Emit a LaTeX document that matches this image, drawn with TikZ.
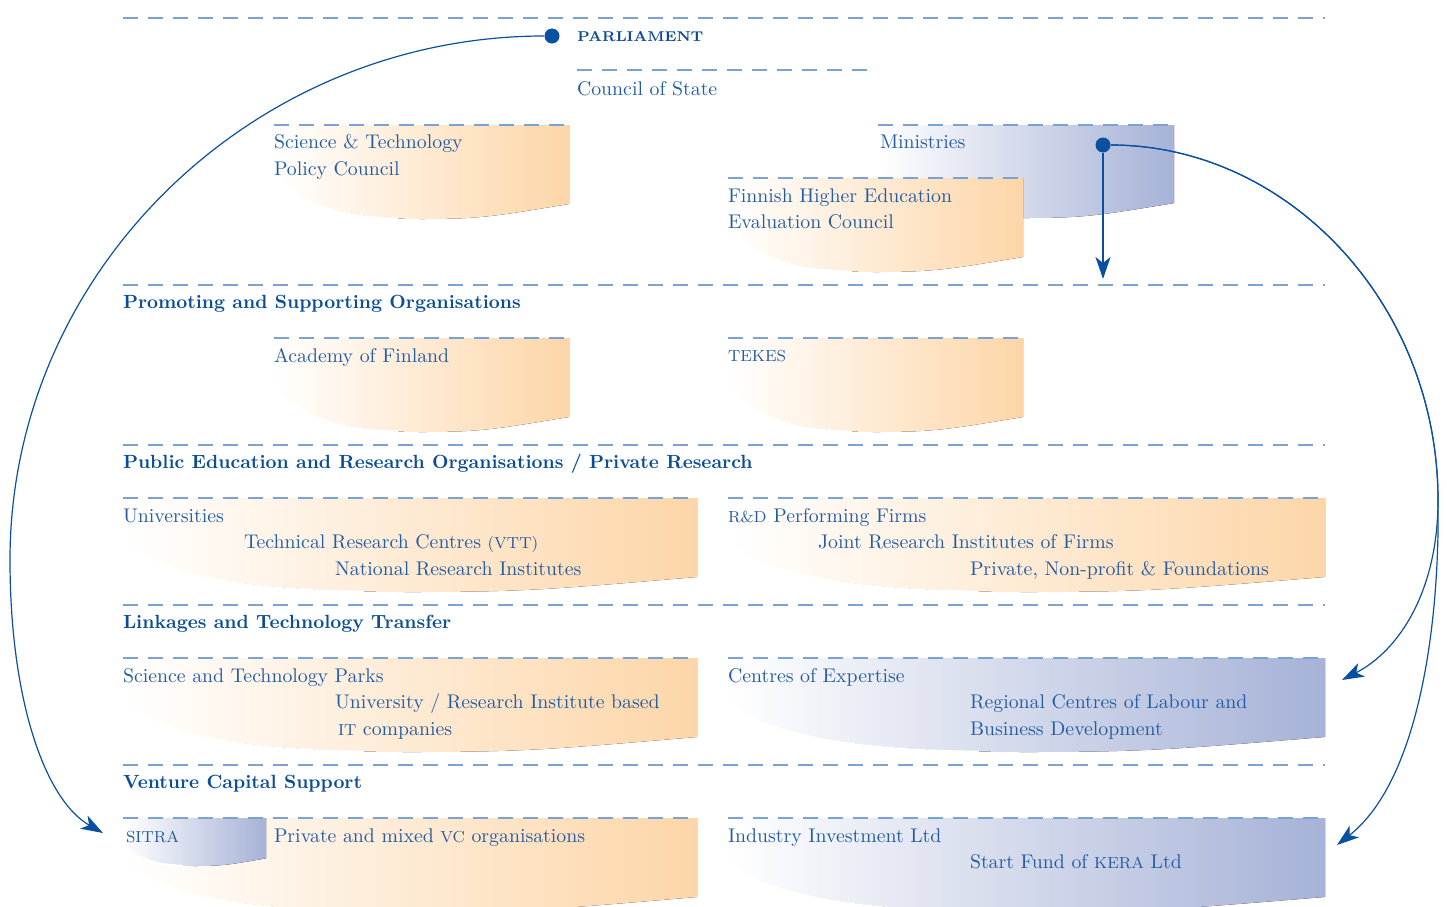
\documentclass[tikz,border=0pt]{standalone}
\usepackage{fontspec}
\usepackage{graphicx}
\usetikzlibrary{arrows.meta}
\definecolor{txtblue}{RGB}{36,92,162}
\definecolor{hdblue}{RGB}{10,76,150}
\definecolor{dashblue}{RGB}{122,162,210}
\definecolor{orangeC}{RGB}{253,214,168}
\definecolor{blueC}{RGB}{166,178,215}
\definecolor{arrblue}{RGB}{10,80,160}
\newcommand{\smc}[1]{{\fontsize{8}{9}\selectfont\addfontfeatures{LetterSpace=25}#1}}
\newcommand{\hdtext}[1]{\scalebox{0.955}{#1}}
\newcommand{\blob}[5]{%
  \fill[left color=white,right color=#5]
    (#1,#3) -- (#2,#3) -- (#2,{#3+0.84*#4})
    .. controls ({#2-0.25*(#2-#1)},{#3+0.97*#4}) and ({#1+0.7*(#2-#1)},{#3+#4}) .. ({#1+0.5*(#2-#1)},{#3+#4})
    .. controls ({#1+0.2*(#2-#1)},{#3+#4}) and ({#1+0.05*(#2-#1)},{#3+0.8*#4}) .. (#1,{#3+0.45*#4})
    -- cycle;
  \draw[white,line width=1.1pt] ({#1+0.42*(#2-#1)},{#3+0.998*#4})
    .. controls ({#1+0.2*(#2-#1)},{#3+0.985*#4}) and ({#1+0.05*(#2-#1)},{#3+0.8*#4}) .. (#1,{#3+0.45*#4})
    -- (#1,#3);
  \draw[dline] (#1,#3) -- (#2,#3);
}
\begin{document}
\begin{tikzpicture}[x=0.5pt,y=-0.5pt,
  txt/.style={anchor=base west,inner sep=0,outer sep=0,text=txtblue,font=\fontsize{9.9}{13.3}\selectfont},
  hdr/.style={anchor=base west,inner sep=0,outer sep=0,text=hdblue,font=\fontsize{10}{12}\selectfont\bfseries},
  dline/.style={draw=dashblue,line width=0.55pt,dash pattern=on 7.5pt off 5pt},
  conn/.style={draw=arrblue,line width=0.6pt},
  tip/.style={-{Stealth[length=11pt,width=7.5pt,inset=3pt]}},
  dot/.style={circle,fill=arrblue,inner sep=0,minimum size=7.5pt}]
\useasboundingbox (0,0) rectangle (1447,906);

% section lines
\draw[dline] (123,18) -- (1325,18);
\draw[dline] (577,70) -- (870,70);
\draw[dline] (123,285) -- (1325,285);
\draw[dline] (123,445) -- (1325,445);
\draw[dline] (123,605) -- (1325,605);
\draw[dline] (123,765) -- (1325,765);

% shapes
\blob{274}{569}{125}{94}{orangeC}
\blob{878}{1174}{125}{93}{blueC}
\blob{728}{1023}{178}{94}{orangeC}
\blob{274}{569}{338}{94}{orangeC}
\blob{728}{1023}{338}{94}{orangeC}
\blob{123}{697}{498}{94}{orangeC}
\blob{728}{1325}{498}{94}{orangeC}
\blob{123}{697}{658}{94}{orangeC}
\blob{728}{1325}{658}{94}{blueC}
\blob{123}{697}{818}{94}{orangeC}
\blob{728}{1325}{818}{94}{blueC}
\blob{123}{266}{818}{48}{blueC}

% texts
\node[anchor=base west,inner sep=0,text=hdblue,font=\fontsize{7.1}{9}\selectfont\bfseries\addfontfeatures{LetterSpace=3}] (parl) at (577,41) {PARLIAMENT};
\node[txt] (cos) at (577,95) {Council of State};
\node[txt] (st1) at (274,148) {Science \& Technology};
\node[txt] (st2) at (274,175) {Policy Council};
\node[txt] (min) at (880,148) {Ministries};
\node[txt] (fh1) at (728,202) {Finnish Higher Education};
\node[txt] (fh2) at (728,228) {Evaluation Council};
\node[hdr] (h1) at (123,308) {\hdtext{Promoting and Supporting Organisations}};
\node[txt] (aof) at (274,362) {Academy of Finland};
\node[txt] (tek) at (728,361) {\smc{TEKES}};
\node[hdr] (h2) at (123,468) {\hdtext{Public Education and Research Organisations / Private Research}};
\node[txt] (uni) at (123,522) {Universities};
\node[txt] (vtt) at (244,548) {Technical Research Centres\ \smc{(VTT)}};
\node[txt] (nri) at (335,575) {National Research Institutes};
\node[txt] (rd) at (728,522) {\smc{R\&D} Performing Firms};
\node[txt] (jri) at (818,548) {Joint Research Institutes of Firms};
\node[txt] (pnp) at (970,575) {Private, Non-profit \& Foundations};
\node[hdr] (h3) at (123,628) {\hdtext{Linkages and Technology Transfer}};
\node[txt] (stp) at (123,682) {Science and Technology Parks};
\node[txt] (uri) at (335,708) {University / Research Institute based};
\node[txt] (itc) at (338,735) {\smc{IT} companies};
\node[txt] (coe) at (728,682) {Centres of Expertise};
\node[txt] (rc1) at (970,708) {Regional Centres of Labour and};
\node[txt] (rc2) at (970,735) {Business Development};
\node[hdr] (h4) at (123,788) {\hdtext{Venture Capital Support}};
\node[txt] (sit) at (126,842) {\smc{SITRA}};
\node[txt] (pvc) at (274,842) {Private and mixed \smc{VC} organisations};
\node[txt] (iil) at (728,842) {Industry Investment Ltd};
\node[txt] (sfk) at (970,868) {Start Fund of \smc{KERA} Ltd};

% connectors
\node[dot] (pdot) at (552,36) {};
\node[dot] (mdot) at (1103,145) {};
\coordinate (sitratip) at (103,833);
\coordinate (mdown) at (1103,279);
\coordinate (coetip) at (1342,680);
\coordinate (iiltip) at (1337,845);

\draw[conn,tip] (pdot) .. controls (253,36) and (10,271) .. (10,560)
   .. controls (10,700) and (45,800) .. (sitratip);
\draw[conn,line width=1pt,tip] (mdot) -- (mdown);
\draw[conn,tip] (mdot) .. controls (1288,145) and (1438,304) .. (1438,500)
   .. controls (1438,590) and (1400,650) .. (coetip);
\draw[conn,tip] (mdot) .. controls (1288,145) and (1438,304) .. (1438,500)
   .. controls (1440,620) and (1420,780) .. (iiltip);
\end{tikzpicture}
\end{document}
